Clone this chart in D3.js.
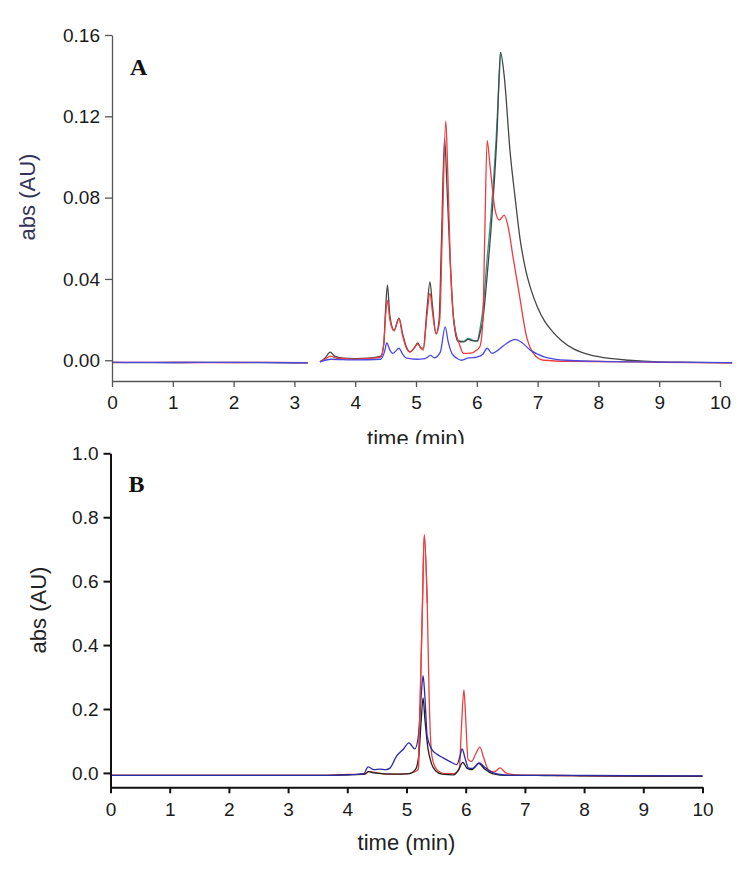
<!DOCTYPE html>
<html>
<head>
<meta charset="utf-8">
<script src="https://cdn.jsdelivr.net/npm/d3@7"></script>
<style>
  body { margin: 0; background: #fff; }
  svg { display: block; }
  .tick text { font-family: "Liberation Sans", Arial, sans-serif; font-size: 19px; fill: #1a1a1a; }
  .title { font-family: "Liberation Sans", Arial, sans-serif; font-size: 22px; }
  .panel { font-family: "Liberation Serif", "Times New Roman", serif; font-size: 24px; font-weight: bold; fill: #111; }
</style>
</head>
<body>
<div id="chart"></div>
<script>
// panel A series, [time (min), abs (AU)], null = break in the trace
const aBlack = [[0,-0.001],[0.7,-0.0012],[1.5,-0.001],[2.5,-0.0012],[3.22,-0.0013],[3.3,null],
  [3.42,-0.0008],[3.5,0.001],[3.59,0.004],[3.66,0.002],[3.8,0.001],[4.0,0.0008],[4.2,0.001],[4.42,0.002],
  [4.47,0.008],[4.5,0.025],[4.53,0.037],[4.57,0.022],[4.64,0.0148],[4.72,0.0207],[4.78,0.013],[4.85,0.006],
  [4.9,0.0041],[4.97,0.006],[5.03,0.0085],[5.08,0.006],[5.12,0.006],[5.18,0.025],[5.23,0.0386],[5.27,0.027],
  [5.33,0.013],[5.38,0.02],[5.42,0.06],[5.47,0.109],[5.51,0.085],[5.56,0.05],[5.62,0.02],[5.69,0.0094],
  [5.78,0.009],[5.86,0.0103],[5.94,0.0095],[6.01,0.0094],[6.05,0.013],[6.1,0.02],[6.18,0.045],[6.245,0.069],
  [6.33,0.11],[6.39,0.1515],[6.45,0.14],[6.55,0.1017],[6.63,0.08],[6.71,0.06],[6.8,0.045],[6.9,0.034],
  [7.0,0.026],[7.12,0.019],[7.25,0.014],[7.4,0.0095],[7.6,0.0055],[7.8,0.0032],[8.0,0.0018],[8.5,0.0],
  [9.0,-0.0008],[9.6,-0.001],[10.2,-0.0013]];

const aTeal = [[5.62,0.02],[5.69,0.0096],[5.78,0.0093],[5.86,0.0107],[5.94,0.0098],[6.01,0.0097],
  [6.05,0.015],[6.1,0.025],[6.17,0.05],[6.235,0.072],[6.32,0.11],[6.39,0.1515]];

const aRed = [[0,-0.0011],[0.8,-0.001],[1.6,-0.0012],[2.4,-0.001],[3.22,-0.0012],[3.3,null],
  [3.42,-0.0006],[3.5,0.0005],[3.59,0.002],[3.7,0.001],[4.0,0.0006],[4.2,0.0008],[4.42,0.0015],
  [4.47,0.008],[4.5,0.022],[4.53,0.0295],[4.57,0.02],[4.64,0.0145],[4.72,0.0205],[4.78,0.012],[4.85,0.0055],
  [4.9,0.004],[4.97,0.006],[5.03,0.008],[5.08,0.006],[5.12,0.005],[5.18,0.022],[5.23,0.033],[5.27,0.024],
  [5.33,0.013],[5.39,0.0197],[5.43,0.06],[5.49,0.1177],[5.52,0.095],[5.56,0.0527],[5.62,0.0197],
  [5.72,0.0074],[5.78,0.0034],[5.9,0.0035],[6.0,0.005],[6.05,0.0066],[6.1,0.0197],[6.13,0.06],
  [6.17,0.108],[6.22,0.095],[6.3,0.074],[6.37,0.069],[6.45,0.0714],[6.52,0.065],[6.6,0.05],[6.68,0.036],
  [6.82,0.0115],[6.93,0.0034],[7.1,0.0],[7.5,-0.0005],[8.0,-0.0006],[9.0,-0.001],[10.2,-0.0013]];

const aBlue = [[0,-0.001],[1.0,-0.0011],[2.0,-0.001],[3.22,-0.0013],[3.3,null],
  [3.42,-0.0008],[3.6,0.0005],[4.0,0.0002],[4.42,0.0005],[4.48,0.004],[4.52,0.0085],[4.57,0.005],
  [4.62,0.0034],[4.72,0.0059],[4.78,0.003],[4.85,0.001],[5.0,0.0005],[5.15,0.0008],[5.24,0.0024],
  [5.3,0.0012],[5.4,0.004],[5.48,0.0164],[5.53,0.009],[5.59,0.0034],[5.67,0.001],[5.75,0.0],
  [5.85,0.001],[6.0,0.0016],[6.1,0.003],[6.17,0.0059],[6.25,0.0034],[6.35,0.005],[6.5,0.0085],
  [6.63,0.0103],[6.75,0.0085],[6.88,0.005],[7.0,0.003],[7.12,0.0016],[7.48,0.0],[8.0,-0.0005],
  [9.0,-0.0009],[10.2,-0.0012]];

// panel B series
const bBlack = [[0,-0.008],[3.5,-0.008],[4.0,-0.006],[4.3,-0.004],[4.36,0.004],[4.45,0.0],[4.8,-0.004],
  [5.05,-0.002],[5.15,0.01],[5.21,0.06],[5.25,0.17],[5.28,0.235],[5.31,0.17],[5.36,0.08],[5.42,0.03],
  [5.5,0.005],[5.6,-0.004],[5.8,-0.006],[5.88,0.01],[5.95,0.033],[6.02,0.015],[6.1,0.01],[6.22,0.03],
  [6.32,0.012],[6.45,-0.002],[6.7,-0.008],[7.2,-0.008],[8.0,-0.009],[10,-0.01]];

const bRed = [[0,-0.008],[3.5,-0.008],[4.0,-0.005],[4.3,-0.003],[4.36,0.005],[4.45,0.002],[4.7,-0.004],
  [5.0,-0.003],[5.12,0.002],[5.2,0.011],[5.23,0.219],[5.27,0.531],[5.3,0.745],[5.35,0.531],[5.385,0.219],
  [5.43,0.052],[5.51,0.011],[5.65,-0.002],[5.8,-0.002],[5.89,0.011],[5.93,0.15],[5.97,0.26],[6.0,0.17],
  [6.04,0.0416],[6.1,0.036],[6.17,0.06],[6.24,0.081],[6.3,0.05],[6.38,0.011],[6.48,0.003],[6.58,0.0156],
  [6.68,0.0],[6.85,-0.006],[7.5,-0.008],[8.5,-0.01],[10,-0.011]];

const bBlue = [[0,-0.008],[2.0,-0.008],[3.5,-0.008],[4.0,-0.006],[4.28,-0.002],[4.35,0.019],[4.45,0.01],
  [4.55,0.012],[4.65,0.01],[4.72,0.015],[4.83,0.052],[4.95,0.075],[5.04,0.094],[5.14,0.075],[5.2,0.114],
  [5.24,0.22],[5.28,0.304],[5.31,0.24],[5.35,0.114],[5.43,0.073],[5.52,0.058],[5.62,0.047],[5.75,0.034],
  [5.85,0.026],[5.9,0.05],[5.94,0.075],[5.99,0.045],[6.05,0.015],[6.12,0.014],[6.23,0.031],[6.32,0.018],
  [6.41,0.005],[6.55,-0.004],[6.8,-0.008],[8.0,-0.008],[10,-0.009]];

const aTicksY = [0, 0.04, 0.08, 0.12, 0.16];
const bTicksY = [0, 0.2, 0.4, 0.6, 0.8, 1.0];
const ticksX = [0, 1, 2, 3, 4, 5, 6, 7, 8, 9, 10];

const width = 752, height = 879;
const svg = d3.select("#chart").append("svg")
  .attr("width", width)
  .attr("height", height);

// the x title of panel A is cut off at the bottom in the original figure
svg.append("defs").append("clipPath").attr("id", "clipA")
  .append("rect").attr("x", 0).attr("y", 0).attr("width", width).attr("height", 444);

function drawPanel(opt) {
  const x = d3.scaleLinear().domain([0, 10]).range(opt.xRange);
  const y = d3.scaleLinear().domain(opt.yDomain).range(opt.yRange);
  const g = svg.append("g");

  const line = d3.line()
    .defined(d => d[1] !== null)
    .x(d => x(d[0]))
    .y(d => y(d[1]))
    .curve(d3.curveMonotoneX);

  opt.series.forEach(s => {
    g.append("path")
      .datum(s.data)
      .attr("fill", "none")
      .attr("stroke", s.color)
      .attr("stroke-width", s.width || 1.3)
      .attr("stroke-linejoin", "round")
      .attr("d", line);
  });

  const xAxis = g.append("g")
    .attr("transform", `translate(0,${opt.yRange[0]})`)
    .call(d3.axisBottom(x).tickValues(ticksX).tickSize(6).tickSizeOuter(0).tickPadding(9).tickFormat(d3.format("d")));
  const yAxis = g.append("g")
    .attr("transform", `translate(${opt.xRange[0]},0)`)
    .call(d3.axisLeft(y).tickValues(opt.ticksY).tickSize(7).tickSizeOuter(0).tickPadding(5).tickFormat(d3.format(opt.fmt)));

  [xAxis, yAxis].forEach(a => {
    a.select(".domain").attr("stroke", opt.axisColor).attr("stroke-width", opt.axisWidth);
    a.selectAll(".tick line").attr("stroke", opt.axisColor).attr("stroke-width", opt.axisWidth);
  });

  g.append("text").attr("class", "title")
    .attr("x", (opt.xRange[0] + opt.xRange[1]) / 2)
    .attr("y", opt.xTitleY)
    .attr("text-anchor", "middle")
    .attr("fill", "#222")
    .attr("clip-path", opt.clip || null)
    .text("time (min)");

  g.append("text").attr("class", "title")
    .attr("transform", `translate(${opt.yTitleX},${opt.yTitleY}) rotate(-90)`)
    .attr("text-anchor", "middle")
    .attr("fill", opt.yTitleColor)
    .text("abs (AU)");

  g.append("text").attr("class", "panel")
    .attr("x", opt.xRange[0] + 18)
    .attr("y", opt.labelY)
    .text(opt.label);
}

drawPanel({
  label: "A", labelY: 75,
  xRange: [112, 720], yRange: [381, 35], yDomain: [-0.0102, 0.16],
  ticksY: aTicksY, fmt: ".2f",
  axisColor: "#555", axisWidth: 1.3,
  xTitleY: 446, clip: "url(#clipA)",
  yTitleX: 35, yTitleY: 197, yTitleColor: "#33335a",
  series: [
    { data: aTeal, color: "#2a9a8a" },
    { data: aBlack, color: "#454545" },
    { data: aRed, color: "#ee3b3f" },
    { data: aBlue, color: "#4a4ae0" }
  ]
});

drawPanel({
  label: "B", labelY: 492,
  xRange: [110.5, 702.5], yRange: [787.3, 453.3], yDomain: [-0.045, 1.0],
  ticksY: bTicksY, fmt: ".1f",
  axisColor: "#111", axisWidth: 2,
  xTitleY: 850,
  yTitleX: 46, yTitleY: 610, yTitleColor: "#222",
  series: [
    { data: bRed, color: "#e8403f" },
    { data: bBlack, color: "#222" },
    { data: bBlue, color: "#2b2ba6" },
    { data: bRed.filter(d => d[0] >= 5.2 && d[0] <= 5.36), color: "#e8403f" }
  ]
});
</script>
</body>
</html>
